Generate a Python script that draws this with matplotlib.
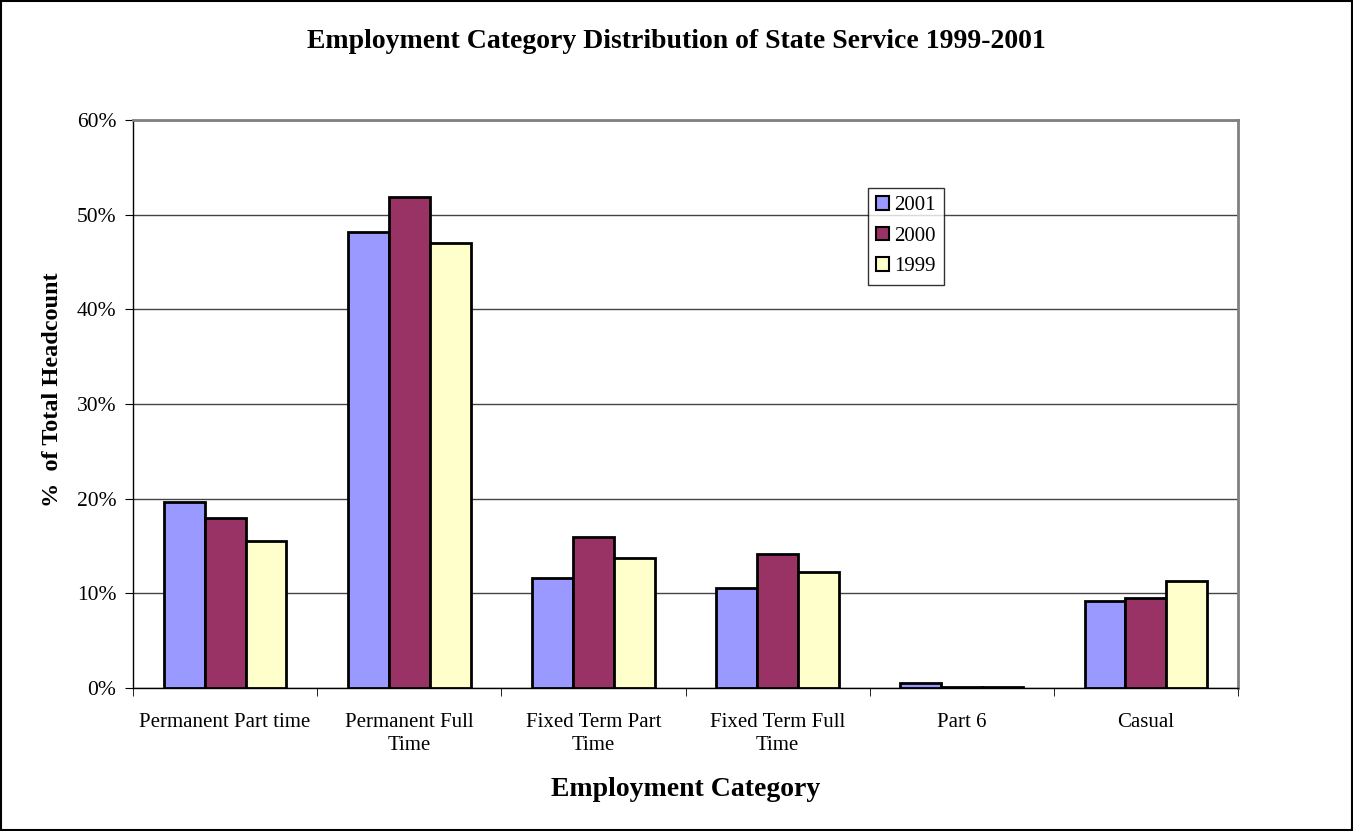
import numpy as np
import matplotlib
matplotlib.use("Agg")
import matplotlib.pyplot as plt
from matplotlib.ticker import FuncFormatter, FixedLocator

categories = ["Permanent Part time", "Permanent Full\nTime", "Fixed Term Part\nTime",
              "Fixed Term Full\nTime", "Part 6", "Casual"]
years = ["2001", "2000", "1999"]
pct_2001 = [19.7, 48.2, 11.6, 10.6, 0.5, 9.2]
pct_2000 = [18.0, 51.9, 15.9, 14.2, 0.1, 9.5]
pct_1999 = [15.5, 47.0, 13.7, 12.3, 0.1, 11.3]
colors = ["#9999FF", "#993366", "#FFFFCC"]

plt.rcParams["font.family"] = ["Liberation Serif", "DejaVu Serif"]

fig = plt.figure(figsize=(13.53, 8.31), dpi=100)
ax = fig.add_axes([133 / 1353, 1 - 688 / 831, (1238 - 133) / 1353, (688 - 120) / 831])

# black frame round the whole picture
fig.patches.append(plt.Rectangle((0.001, 0.001), 0.998, 0.998, transform=fig.transFigure,
                                 fill=False, edgecolor="black", linewidth=1.5))

x = np.arange(len(categories))
width = 1 / 4.5
for i, (vals, c) in enumerate(zip([pct_2001, pct_2000, pct_1999], colors)):
    ax.bar(x + (i - 1) * width, vals, width, color=c, edgecolor="black",
           linewidth=2, label=years[i], zorder=3)

ax.set_xlim(-0.5, len(categories) - 0.5)
ax.set_ylim(0, 60)
ax.set_yticks(np.arange(0, 61, 10))
ax.yaxis.set_major_formatter(FuncFormatter(lambda v, p: f"{v:.0f}%"))
ax.yaxis.grid(True, color="#444444", linewidth=1, zorder=0)

ax.set_xticks(x)
ax.set_xticklabels(categories, fontsize=15, linespacing=1.25)
ax.tick_params(axis="x", length=0, pad=18)
ax.xaxis.set_minor_locator(FixedLocator(np.arange(-0.5, len(categories), 1)))
ax.tick_params(axis="x", which="minor", length=6, color="black", direction="out")
ax.tick_params(axis="y", labelsize=15.5, length=6, direction="out", pad=6)

for side in ["top", "right"]:
    ax.spines[side].set_color("#808080")
    ax.spines[side].set_linewidth(2)
ax.spines["left"].set_color("black")
ax.spines["bottom"].set_color("black")
ax.spines["left"].set_linewidth(1)
ax.spines["bottom"].set_linewidth(1)

ax.set_xlabel("Employment Category", fontsize=20, fontweight="bold", labelpad=16)
ax.set_ylabel("%  of Total Headcount", fontsize=17.5, fontweight="bold")
ax.yaxis.set_label_coords(-0.063, 0.525)
fig.text(0.5, 1 - 42 / 831, "Employment Category Distribution of State Service 1999-2001",
         ha="center", va="center", fontsize=20, fontweight="bold")

leg = ax.legend(loc="upper left", bbox_to_anchor=((868 - 133) / 1105, (688 - 188) / 568),
                fontsize=15, frameon=True, fancybox=False, edgecolor="black",
                handlelength=0.6, handleheight=0.6, handletextpad=0.25,
                borderpad=0.4, labelspacing=0.55, borderaxespad=0)
leg.get_frame().set_linewidth(1)
for h in leg.legend_handles:
    h.set_linewidth(1.5)

fig.savefig("out.png", dpi=100)
